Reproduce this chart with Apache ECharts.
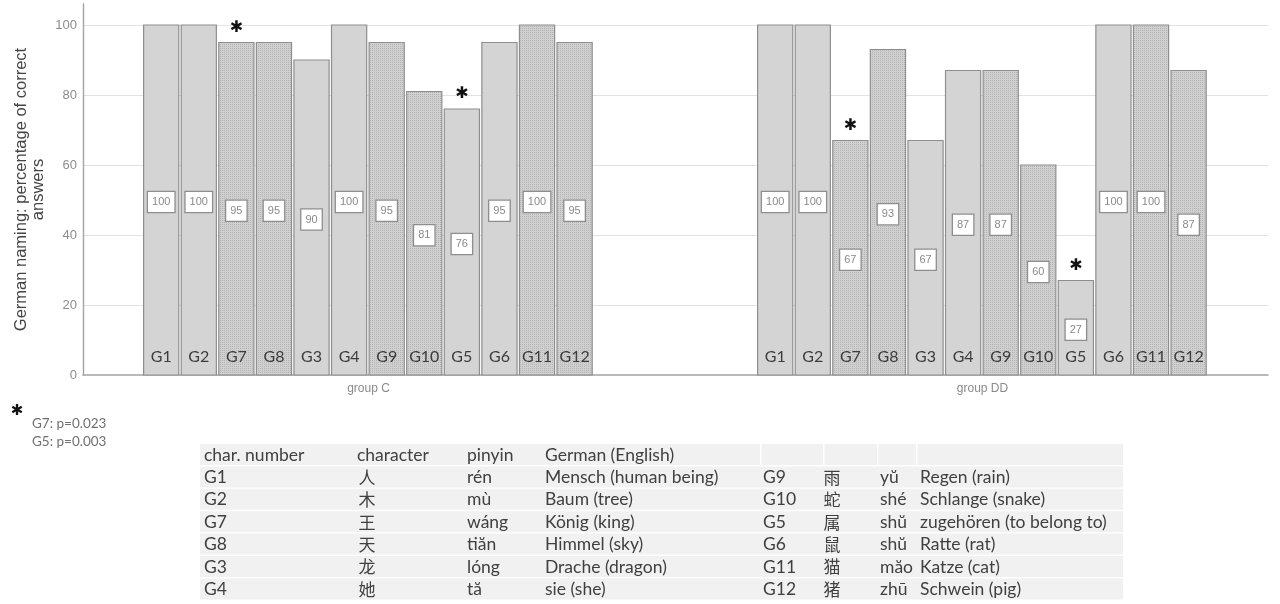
<!DOCTYPE html>
<html>
<head>
<meta charset="utf-8">
<title>German naming by character</title>
<script src="https://cdn.jsdelivr.net/npm/echarts@6/dist/echarts.min.js"></script>
<style>
  html, body { margin: 0; padding: 0; background: #ffffff; }
  #chart { width: 1280px; height: 604px; }
</style>
</head>
<body>
<div id="chart"></div>
<script>
// ---- data ---------------------------------------------------------------
const groups = ['group C', 'group DD'];
const characters = ['G1', 'G2', 'G7', 'G8', 'G3', 'G4', 'G9', 'G10', 'G5', 'G6', 'G11', 'G12'];
const groupC = [100, 100, 95, 95, 90, 100, 95, 81, 76, 95, 100, 95];
const groupDD = [100, 100, 67, 93, 67, 87, 87, 60, 27, 100, 100, 87];
const yTickStep = 20;
const yMax = 106;
const significant = ['G7', 'G5'];
const pValues = ['G7: p=0.023', 'G5: p=0.003'];
const yTitle = 'German naming: percentage of correct\nanswers';

const tableHeader = ['char. number', 'character', 'pinyin', 'German (English)'];
const tableLeft = [
  ['G1', '人', 'rén', 'Mensch (human being)'],
  ['G2', '木', 'mù', 'Baum (tree)'],
  ['G7', '王', 'wáng', 'König (king)'],
  ['G8', '天', 'tiăn', 'Himmel (sky)'],
  ['G3', '龙', 'lóng', 'Drache (dragon)'],
  ['G4', '她', 'tă', 'sie (she)']
];
const tableRight = [
  ['G9', '雨', 'yŭ', 'Regen (rain)'],
  ['G10', '蛇', 'shé', 'Schlange (snake)'],
  ['G5', '属', 'shŭ', 'zugehören (to belong to)'],
  ['G6', '鼠', 'shŭ', 'Ratte (rat)'],
  ['G11', '猫', 'măo', 'Katze (cat)'],
  ['G12', '猪', 'zhū', 'Schwein (pig)']
];

// ---- styles -------------------------------------------------------------
const SANS = 'Liberation Sans, Arial, sans-serif';
const BODY = 'Lato, Open Sans, sans-serif';
const CJK = 'Noto Sans CJK SC, sans-serif';

// fine dot texture for every other pair of bars
const patternCanvas = document.createElement('canvas');
patternCanvas.width = 2;
patternCanvas.height = 2;
(function () {
  const g = patternCanvas.getContext('2d');
  g.fillStyle = '#d0d0d0';
  g.fillRect(0, 0, 2, 2);
  g.fillStyle = '#b4b4b4';
  g.fillRect(0, 0, 1, 1);
})();
const dotFill = { type: 'pattern', image: patternCanvas, repeat: 'repeat' };
const plainFill = '#d4d4d4';

// share of the distance between cluster centres taken by one cluster
const CLUSTER_SHARE = 0.7345;

// rows for the custom bar series: [group index, value, slot index]
const barData = [];
[groupC, groupDD].forEach(function (vals, gi) {
  vals.forEach(function (v, i) { barData.push([gi, v, i]); });
});

function renderBar(params, api) {
  const gi = api.value(0);
  const val = api.value(1);
  const slot = api.value(2);
  const base = api.coord([gi, 0]);
  const top = api.coord([gi, val]);
  const band = api.size([1, 0])[0];
  const clusterW = band * CLUSTER_SHARE;
  const slotW = clusterW / characters.length;
  const x = base[0] - clusterW / 2 + slot * slotW + 0.6;
  const w = slotW - 2.4;
  const cx = x + w / 2;
  const h = base[1] - top[1];
  const textured = Math.floor(slot / 2) % 2 === 1;
  const name = characters[slot];

  const children = [
    {
      type: 'rect',
      shape: { x: x, y: top[1], width: w, height: h },
      style: { fill: textured ? dotFill : plainFill, stroke: '#8e8e8e', lineWidth: 1.2 }
    },
    {
      type: 'text',
      x: cx, y: top[1] + h / 2 + 2,
      style: {
        text: String(val), align: 'center', verticalAlign: 'middle',
        font: '11px ' + SANS, fill: '#8a8a8a',
        backgroundColor: '#ffffff', borderColor: '#8e8e8e', borderWidth: 1.3,
        padding: [5, 4, 4, 4]
      }
    },
    {
      type: 'text',
      x: cx, y: base[1] - 18,
      style: {
        text: name, align: 'center', verticalAlign: 'middle',
        font: '16px ' + BODY, fill: '#3c3c3c'
      }
    }
  ];
  if (significant.indexOf(name) >= 0) {
    children.push({
      type: 'text',
      x: cx, y: top[1] - 15,
      style: {
        text: '✱', align: 'center', verticalAlign: 'middle',
        font: '16px DejaVu Sans, sans-serif', fill: '#111111'
      }
    });
  }
  return { type: 'group', children: children };
}

// ---- table below the chart ---------------------------------------------
function buildTable() {
  const els = [];
  const left = 200, right = 1123, top0 = 444, rowH = 22.4;
  const leftCols = [204, 367, 467, 545];
  const rightCols = [763, 832, 880, 920];
  const rightSeps = [760, 823, 877, 916];
  const rows = tableLeft.length + 1;
  for (let r = 0; r < rows; r++) {
    els.push({
      type: 'rect', silent: true,
      shape: { x: left, y: top0 + r * rowH, width: right - left, height: rowH - 1.4 },
      style: { fill: '#f1f1f1' }
    });
  }
  rightSeps.forEach(function (sx) {
    els.push({
      type: 'rect', silent: true,
      shape: { x: sx, y: top0, width: 1.5, height: rowH - 1.4 },
      style: { fill: '#ffffff' }
    });
  });
  function cell(txt, x, y, isChar, centered) {
    els.push({
      type: 'text', silent: true, x: x, y: y,
      style: {
        text: txt, align: centered ? 'center' : 'left', verticalAlign: 'middle',
        font: isChar ? '17px ' + CJK : '17.5px ' + BODY, fill: '#404040'
      }
    });
  }
  const cy0 = top0 + (rowH - 1.4) / 2 + 0.5;
  tableHeader.forEach(function (t, c) { cell(t, c === 1 ? 357 : leftCols[c], cy0, false, false); });
  tableLeft.forEach(function (row, r) {
    const y = cy0 + (r + 1) * rowH;
    row.forEach(function (t, c) { cell(t, leftCols[c], y, c === 1, c === 1); });
  });
  tableRight.forEach(function (row, r) {
    const y = cy0 + (r + 1) * rowH;
    row.forEach(function (t, c) { cell(t, rightCols[c], y, c === 1, c === 1); });
  });
  return els;
}

function buildFootnote() {
  const els = [{
    type: 'text', silent: true, x: 17, y: 411,
    style: { text: '✱', align: 'center', verticalAlign: 'middle', font: '15px DejaVu Sans, sans-serif', fill: '#111111' }
  }];
  pValues.forEach(function (t, i) {
    els.push({
      type: 'text', silent: true, x: 32, y: 424 + i * 18,
      style: { text: t, align: 'left', verticalAlign: 'middle', font: '13.5px ' + BODY, fill: '#707070' }
    });
  });
  return els;
}

// ---- chart --------------------------------------------------------------
const chart = echarts.init(document.getElementById('chart'), null, { renderer: 'canvas' });
chart.setOption({
  animation: false,
  backgroundColor: '#ffffff',
  grid: [
    // frame: value axis, gridlines and baseline
    { left: 83, right: 12, top: 4, bottom: 229 },
    // bars: the two cluster centres sit on the ends of this axis
    { left: 368.5, right: 297.5, top: 4, bottom: 229 }
  ],
  xAxis: [
    {
      gridIndex: 0, type: 'value', min: 0, max: 1,
      axisLine: { show: true, lineStyle: { color: '#a3a3a3', width: 1.6 } },
      axisTick: { show: false }, axisLabel: { show: false }, splitLine: { show: false }
    },
    {
      gridIndex: 1, type: 'category', data: groups, boundaryGap: false,
      axisLine: { show: false }, axisTick: { show: false },
      axisLabel: { color: '#8a8a8a', fontSize: 12, fontFamily: SANS, margin: 8 }
    }
  ],
  yAxis: [
    {
      gridIndex: 0, type: 'value', min: 0, max: yMax, interval: yTickStep,
      axisLine: { show: true, lineStyle: { color: '#a3a3a3', width: 1.4 } },
      axisTick: { show: false },
      axisLabel: {
        color: '#8c8c8c', fontSize: 13, fontFamily: SANS, margin: 6, showMaxLabel: false,
        formatter: function (v) { return v % yTickStep === 0 ? String(v) : ''; }
      },
      splitLine: { show: true, showMaxLine: false, showMinLine: false, lineStyle: { color: '#e2e2e2', width: 1.2 } },
      name: yTitle, nameLocation: 'middle', nameGap: 36, nameMoveOverlap: false,
      nameTextStyle: { color: '#444444', fontSize: 16.5, fontFamily: SANS, lineHeight: 17 }
    },
    { gridIndex: 1, type: 'value', min: 0, max: yMax, show: false }
  ],
  series: [{
    type: 'custom',
    xAxisIndex: 1, yAxisIndex: 1,
    data: barData,
    encode: { x: 0, y: 1 },
    renderItem: renderBar,
    clip: false,
    z: 3
  }],
  graphic: buildFootnote().concat(buildTable())
});
</script>
</body>
</html>
